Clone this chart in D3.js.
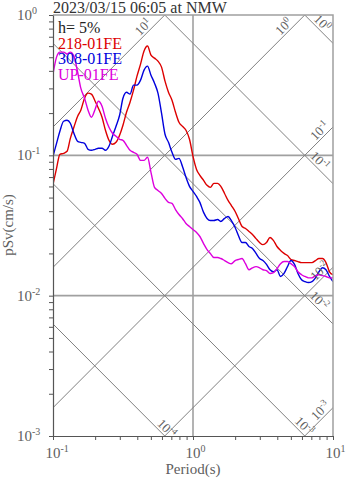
<!DOCTYPE html>
<html>
<head>
<meta charset="utf-8">
<script src="https://cdn.jsdelivr.net/npm/d3@7"></script>
<style>
  html, body { margin: 0; padding: 0; background: #fff; }
  svg { display: block; font-family: "Liberation Serif", "Times New Roman", serif; }
</style>
</head>
<body>
<svg id="chart" width="347" height="478"></svg>
<script>
// Pseudo-velocity response spectra (h = 5%), tripartite log-log plot.
const title = "2023/03/15 06:05 at NMW";
const dampingText = "h= 5%";

// Natural periods (s)
const periods = [
  0.100, 0.106, 0.112, 0.119, 0.126, 0.133, 0.141, 0.150, 0.158, 0.168,
  0.178, 0.188, 0.200, 0.211, 0.224, 0.237, 0.251, 0.266, 0.282, 0.299,
  0.316, 0.335, 0.355, 0.376, 0.398, 0.422, 0.447, 0.473, 0.501, 0.531,
  0.562, 0.596, 0.631, 0.668, 0.708, 0.750, 0.794, 0.841, 0.891, 0.944,
  1.00, 1.06, 1.12, 1.19, 1.26, 1.33, 1.41, 1.50, 1.58, 1.68,
  1.78, 1.88, 2.00, 2.11, 2.24, 2.37, 2.51, 2.66, 2.82, 2.99,
  3.16, 3.35, 3.55, 3.76, 3.98, 4.22, 4.47, 4.73, 5.01, 5.31,
  5.62, 5.96, 6.31, 6.68, 7.08, 7.50, 7.94, 8.41, 8.91, 9.44,
  10.0
];

// pSv (cm/s), component 218-01FE
const sv218 = [
  0.0621, 0.0807, 0.1017, 0.1033, 0.1068, 0.1322, 0.1585, 0.190, 0.2097, 0.2553,
  0.2773, 0.2728, 0.2431, 0.2166, 0.1868, 0.1509, 0.128, 0.1198, 0.1238, 0.1389,
  0.1638, 0.2028, 0.2391, 0.2913, 0.3666, 0.4467, 0.5532, 0.6006, 0.5179, 0.4929,
  0.4691, 0.4252, 0.3378, 0.2818, 0.2471, 0.2028, 0.1721, 0.1611, 0.1509, 0.1301,
  0.0984, 0.0794, 0.0720, 0.0663, 0.0611, 0.0591, 0.0631, 0.0631, 0.0601, 0.0535,
  0.0477, 0.0439, 0.0398, 0.0355, 0.0311, 0.0301, 0.0287, 0.0273, 0.0255, 0.0239,
  0.0231, 0.0239, 0.0260, 0.0247, 0.0224, 0.0210, 0.0200, 0.0193, 0.0181, 0.0178,
  0.0175, 0.0172, 0.0172, 0.0172, 0.0172, 0.0178, 0.0184, 0.0184, 0.0172, 0.0148,
  0.0141
];

// pSv (cm/s), component 308-01FE
const sv308 = [
  0.0984, 0.1218, 0.1484, 0.1749, 0.1778, 0.1693, 0.1436, 0.1259, 0.1238, 0.1218,
  0.1104, 0.1086, 0.1104, 0.1122, 0.1122, 0.1086, 0.1160, 0.1367, 0.1611, 0.1931,
  0.2553, 0.2818, 0.2728, 0.3162, 0.3162, 0.3433, 0.4046, 0.4321, 0.3727, 0.3268,
  0.2773, 0.1995, 0.1413, 0.1238, 0.1051, 0.0936, 0.0952, 0.0834, 0.0697, 0.0601,
  0.0553, 0.0509, 0.0462, 0.0392, 0.0355, 0.0343, 0.0343, 0.0349, 0.0338, 0.0355,
  0.0367, 0.0343, 0.0306, 0.0268, 0.0239, 0.0239, 0.0224, 0.0217, 0.0200, 0.0184,
  0.0178, 0.0167, 0.0153, 0.0148, 0.0153, 0.0137, 0.0144, 0.0161, 0.0178, 0.0167,
  0.0144, 0.0130, 0.0126, 0.0124, 0.0126, 0.0134, 0.0148, 0.0158, 0.0153, 0.0137,
  0.0126
];

// pSv (cm/s), component UP-01FE
const svUP = [
  0.3790, 0.5012, 0.5441, 0.5441, 0.5265, 0.5441, 0.5095, 0.3917, 0.3010, 0.2553,
  0.2097, 0.1868, 0.2131, 0.2431, 0.2239, 0.1837, 0.1585, 0.1436, 0.1367, 0.1301,
  0.1280, 0.1179, 0.1086, 0.1051, 0.1017, 0.0921, 0.0921, 0.0968, 0.0756, 0.0591,
  0.0562, 0.0535, 0.0493, 0.0462, 0.0454, 0.0411, 0.0379, 0.0355, 0.0327, 0.0311,
  0.0296, 0.0282, 0.0264, 0.0235, 0.0213, 0.0200, 0.0187, 0.0187, 0.0184, 0.0178,
  0.0172, 0.0169, 0.0178, 0.0181, 0.0184, 0.0169, 0.0153, 0.0158, 0.0161, 0.0158,
  0.0153, 0.0151, 0.0144, 0.0146, 0.0156, 0.0169, 0.0175, 0.0175, 0.0169, 0.0161,
  0.0148, 0.0141, 0.0137, 0.0134, 0.0134, 0.0139, 0.0141, 0.0139, 0.0137, 0.0134,
  0.0134
];

const seriesNames = ["218-01FE", "308-01FE", "UP-01FE"];
const seriesColors = ["#dd0000", "#0000dd", "#dd00dd"];

// Decade tick exponents
const xTickExps = [-1, 0, 1];
const yTickExps = [-3, -2, -1, 0];

// Diagonal guide levels: displacement (cm) and acceleration (cm/s^2)
const dispLevels = [1e-4, 1e-3, 1e-2, 1e-1, 1];
const accLevels = [1e-3, 1e-2, 1e-1, 1, 10];
const dispExps = [-4, -3, -2, -1, 0];
const accExps = [-3, -2, -1, 0, 1];
// period at which each guide label sits along its line
const dispLabelAt = [0.60, 5.77, 7.36, 7.43, 7.75];
const accLabelAt = [8.8, 8.7, 8.69, 4.81, 0.477];

// ---------------------------------------------------------------
const svg = d3.select("#chart");
const pLeft = 53, pRight = 333, pTop = 15, pBottom = 436;

const x = d3.scaleLog().domain([0.1, 10]).range([pLeft, pRight]);
const y = d3.scaleLog().domain([1e-3, 1]).range([pBottom, pTop]);

const TWO_PI = 2 * Math.PI;

svg.append("defs").append("clipPath").attr("id", "plotClip")
  .append("rect").attr("x", pLeft).attr("y", pTop)
  .attr("width", pRight - pLeft).attr("height", pBottom - pTop);

const plot = svg.append("g").attr("clip-path", "url(#plotClip)");

// decade grid
plot.selectAll("line.vgrid").data([1]).join("line")
  .attr("class", "vgrid")
  .attr("x1", d => x(d)).attr("x2", d => x(d))
  .attr("y1", pTop).attr("y2", pBottom)
  .attr("stroke", "#a0a0a0").attr("stroke-width", 1.6);
plot.selectAll("line.hgrid").data([1e-2, 1e-1]).join("line")
  .attr("class", "hgrid")
  .attr("x1", pLeft).attr("x2", pRight)
  .attr("y1", d => y(d)).attr("y2", d => y(d))
  .attr("stroke", "#a0a0a0").attr("stroke-width", 1.6);

// diagonal guides
const guideT = [0.02, 50];
const diag = d3.line().x(d => x(d[0])).y(d => y(d[1]));
dispLevels.forEach(D => {
  plot.append("path")
    .attr("d", diag(guideT.map(T => [T, TWO_PI * D / T])))
    .attr("fill", "none").attr("stroke", "#808080").attr("stroke-width", 1);
});
accLevels.forEach(A => {
  plot.append("path")
    .attr("d", diag(guideT.map(T => [T, A * T / TWO_PI])))
    .attr("fill", "none").attr("stroke", "#808080").attr("stroke-width", 1);
});

// guide labels
function powerText(sel, base, exp, bigSize, smallSize, raise) {
  sel.append("tspan").attr("font-size", bigSize).text(base);
  sel.append("tspan").attr("font-size", smallSize).attr("dy", -raise).text(String(exp));
}
const guideLabels = svg.append("g").attr("fill", "#606060");
dispLevels.forEach((D, i) => {
  const T = dispLabelAt[i];
  const g = guideLabels.append("g")
    .attr("transform", `translate(${x(T)},${y(TWO_PI * D / T)}) rotate(45)`);
  const t = g.append("text").attr("x", 0).attr("y", -2.5).attr("text-anchor", "middle");
  powerText(t, "10", dispExps[i], 13, 9, 5);
});
accLevels.forEach((A, i) => {
  const T = accLabelAt[i];
  const g = guideLabels.append("g")
    .attr("transform", `translate(${x(T)},${y(A * T / TWO_PI)}) rotate(-45)`);
  const t = g.append("text").attr("x", 0).attr("y", -2.5).attr("text-anchor", "middle");
  powerText(t, "10", accExps[i], 13, 9, 5);
});

// legend
const legend = svg.append("g").attr("font-size", 16);
legend.append("text").attr("x", 58).attr("y", 33).attr("fill", "#222").text(dampingText);
seriesNames.forEach((name, i) => {
  legend.append("text").attr("x", 58).attr("y", 48.5 + 15.5 * i)
    .attr("fill", seriesColors[i]).text(name);
});

// spectra
const spectra = [sv218, sv308, svUP];
const line = d3.line()
  .x((d, i) => x(periods[i]))
  .y(d => y(d))
  .curve(d3.curveMonotoneX);
spectra.forEach((vals, i) => {
  plot.append("path")
    .attr("d", line(vals))
    .attr("fill", "none")
    .attr("stroke", seriesColors[i])
    .attr("stroke-width", 1.4)
    .attr("stroke-linejoin", "round");
});

// frame (top and right)
svg.append("path")
  .attr("d", `M${pLeft},${pTop}H${pRight}V${pBottom}`)
  .attr("fill", "none").attr("stroke", "#a0a0a0").attr("stroke-width", 1.5);

// axes
const xAxis = d3.axisBottom(x).tickSize(4).tickSizeOuter(0).tickFormat("");
const yAxis = d3.axisLeft(y).tickSize(4).tickSizeOuter(0).tickFormat("");
const gx = svg.append("g").attr("transform", `translate(0,${pBottom})`).call(xAxis);
const gy = svg.append("g").attr("transform", `translate(${pLeft},0)`).call(yAxis);
[gx, gy].forEach(g => {
  g.select(".domain").attr("stroke", "#555").attr("stroke-width", 1.2);
  g.selectAll(".tick line").attr("stroke", "#555");
});

// tick labels
const tickLabels = svg.append("g").attr("fill", "#606060");
xTickExps.forEach(e => {
  const t = tickLabels.append("text")
    .attr("x", x(Math.pow(10, e)) - 7.5).attr("y", pBottom + 22);
  powerText(t, "10", e, 15, 10, 6);
});
yTickExps.forEach(e => {
  const t = tickLabels.append("text")
    .attr("x", 17).attr("y", y(Math.pow(10, e)) + 5);
  powerText(t, "10", e, 15, 10, 6);
});

// axis titles
svg.append("text").attr("x", (pLeft + pRight) / 2).attr("y", 474)
  .attr("text-anchor", "middle").attr("font-size", 15).attr("fill", "#606060")
  .text("Period(s)");
svg.append("text")
  .attr("transform", `translate(13,225) rotate(-90)`)
  .attr("text-anchor", "middle").attr("font-size", 15).attr("fill", "#606060")
  .text("pSv(cm/s)");

// title
svg.append("text").attr("x", 53).attr("y", 12.5)
  .attr("font-size", 16).attr("fill", "#333").text(title);
</script>
</body>
</html>
